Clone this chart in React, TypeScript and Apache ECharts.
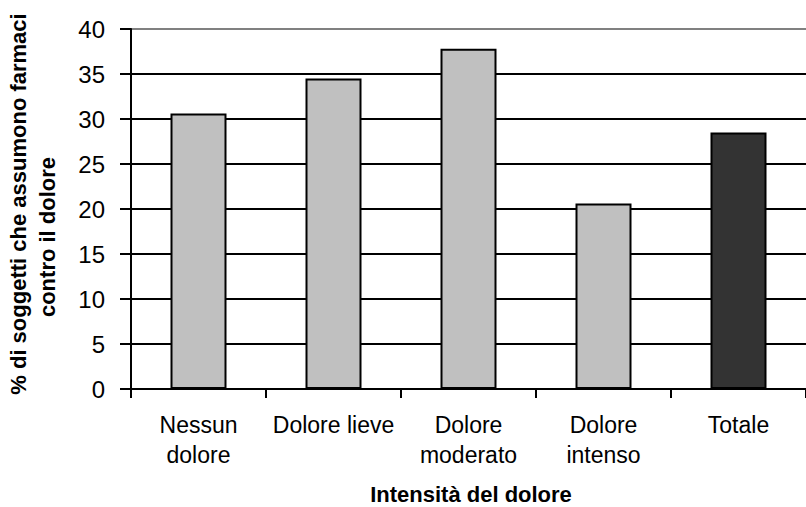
import React, { useEffect, useRef } from "react";
import * as echarts from "echarts";

const categories = ["Nessun\ndolore", "Dolore lieve", "Dolore\nmoderato", "Dolore\nintenso", "Totale"];
const values = [30.6, 34.5, 37.8, 20.6, 28.5];
const barColors = ["#c0c0c0", "#c0c0c0", "#c0c0c0", "#c0c0c0", "#333333"];
const yTitleLines = ["% di soggetti che assumono farmaci", "contro il dolore"];
const xTitle = "Intensità del dolore";
const gridColors = ["#000", "#000", "#000", "#000", "#000", "#000", "#000", "#000", "#808080"];

const FONT = "'Liberation Sans', Arial, sans-serif";

export default function App() {
  const ref = useRef<HTMLDivElement>(null);
  useEffect(() => {
    if (!ref.current) return;
    const chart = echarts.init(ref.current, null, { renderer: "svg" });
    chart.setOption({
      animation: false,
      backgroundColor: "#fff",
      grid: { left: 131, top: 29, right: -2, bottom: 118, containLabel: false },
      xAxis: {
        type: "category",
        data: categories,
        axisLine: { lineStyle: { color: "#000", width: 2 } },
        axisTick: { show: true, length: 9, lineStyle: { color: "#000", width: 2 } },
        axisLabel: {
          color: "#000",
          fontFamily: FONT,
          fontSize: 23,
          lineHeight: 30,
          margin: 21,
          interval: 0,
        },
      },
      yAxis: {
        type: "value",
        min: 0,
        max: 40,
        interval: 5,
        axisLine: { show: true, lineStyle: { color: "#000", width: 2 } },
        axisTick: { show: true, length: 11, lineStyle: { color: "#000", width: 2 } },
        axisLabel: { color: "#000", fontFamily: FONT, fontSize: 24, margin: 26 },
        splitLine: { show: true, lineStyle: { color: gridColors, width: 2 } },
      },
      series: [
        {
          type: "bar",
          barWidth: 56,
          data: values.map((v, i) => ({
            value: v,
            itemStyle: { color: barColors[i], borderColor: "#000", borderWidth: 2 },
          })),
        },
      ],
      graphic: [
        {
          type: "text",
          x: 18,
          y: 204,
          rotation: Math.PI / 2,
          style: {
            text: yTitleLines[0],
            fontFamily: FONT,
            fontWeight: "bold",
            fontSize: 22,
            fill: "#000",
            align: "center",
            verticalAlign: "middle",
          },
        },
        {
          type: "text",
          x: 47,
          y: 237,
          rotation: Math.PI / 2,
          style: {
            text: yTitleLines[1],
            fontFamily: FONT,
            fontWeight: "bold",
            fontSize: 22,
            fill: "#000",
            align: "center",
            verticalAlign: "middle",
          },
        },
        {
          type: "text",
          x: 471,
          y: 494,
          style: {
            text: xTitle,
            fontFamily: FONT,
            fontWeight: "bold",
            fontSize: 22,
            fill: "#000",
            align: "center",
            verticalAlign: "middle",
          },
        },
      ],
    });
    return () => chart.dispose();
  }, []);
  return (
    <div
      ref={ref}
      style={{ position: "fixed", left: 0, top: 0, width: 806, height: 507, background: "#fff" }}
    />
  );
}
